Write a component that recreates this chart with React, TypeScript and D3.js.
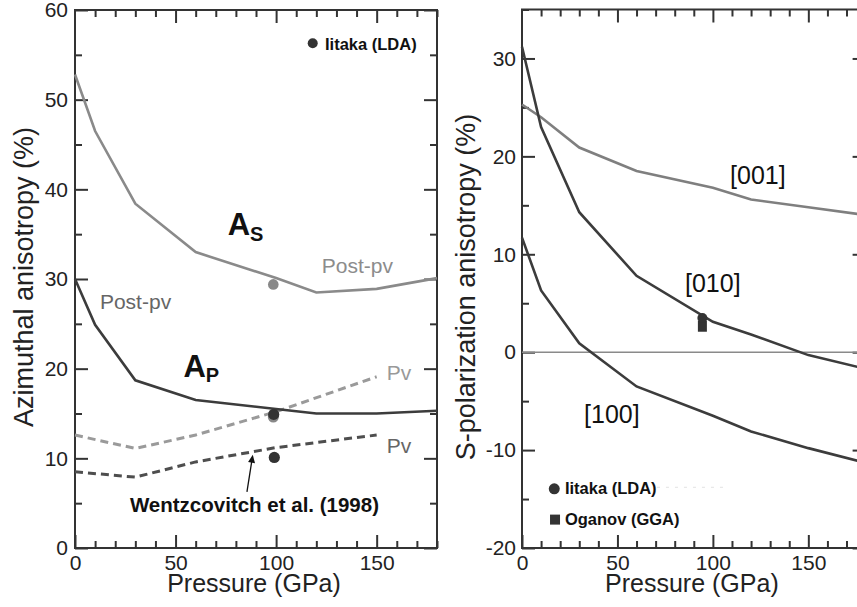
import { useRef, useEffect } from 'react'
import { select, scaleLinear, axisBottom, axisTop, axisLeft, axisRight, line, range } from 'd3'

// left panel: azimuthal anisotropy
const pressure = [0, 10, 30, 60, 100, 120, 150, 180]
const postPvAs = [52.8, 46.5, 38.4, 33.0, 30.1, 28.5, 28.9, 30.1]
const postPvAp = [30.0, 24.9, 18.7, 16.5, 15.5, 15.0, 15.0, 15.3]
const pvPressure = [0, 30, 60, 100, 150]
const pvAs = [12.6, 11.1, 12.6, 15.2, 19.1]
const pvAp = [8.5, 7.9, 9.6, 11.2, 12.6]
const iitakaAs = [{ p: 98.6, v: 29.4 }]
const iitakaAp = [{ p: 98.6, v: 14.6 }]
const wentzPoints = [{ p: 98.8, v: 14.9 }, { p: 99.1, v: 10.1 }]

// right panel: S-polarization anisotropy
const s001 = [25.3, 24.0, 20.9, 18.5, 16.8, 15.6, 14.8, 14.0]
const s010 = [31.2, 23.0, 14.3, 7.8, 3.1, 1.8, -0.3, -1.7]
const s100 = [11.7, 6.3, 0.9, -3.5, -6.5, -8.1, -9.8, -11.3]
const iitakaS = [{ p: 94.5, v: 3.5 }]
const oganovS = [{ p: 94.5, v: 2.65 }]

const leftYTicks = [0, 10, 20, 30, 40, 50, 60]
const rightYTicks = [-20, -10, 0, 10, 20, 30]
const xTicks = [0, 50, 100, 150]

const FONT = "'Liberation Sans', Arial, Helvetica, sans-serif"
const DARK = '#3c3c3c'
const LIGHT = '#8a8a8a'

function drawFrame(g, x, y, yMajor, yMinor, pad) {
  const [x0, x1] = x.range()
  const [yb, yt] = y.range()
  const xMinor = range(0, 181, 10).filter((d) => d % 50 !== 0)
  const fmt = (d) => String(d)

  g.append('g').attr('transform', `translate(0,${yb})`)
    .call(axisBottom(x).tickValues(xMinor).tickSize(-7).tickSizeOuter(0).tickFormat(() => ''))
  g.append('g').attr('transform', `translate(0,${yb})`)
    .call(axisBottom(x).tickValues(xTicks).tickSize(-13).tickSizeOuter(0).tickPadding(7).tickFormat(fmt))
  g.append('g').attr('transform', `translate(0,${yt})`)
    .call(axisTop(x).tickValues(xMinor).tickSize(-7).tickSizeOuter(0).tickFormat(() => ''))
  g.append('g').attr('transform', `translate(0,${yt})`)
    .call(axisTop(x).tickValues(xTicks.filter((d) => d > 0)).tickSize(-13).tickSizeOuter(0).tickFormat(() => ''))

  g.append('g').attr('transform', `translate(${x0},0)`)
    .call(axisLeft(y).tickValues(yMinor).tickSize(-7).tickSizeOuter(0).tickFormat(() => ''))
  g.append('g').attr('transform', `translate(${x0},0)`)
    .call(axisLeft(y).tickValues(yMajor).tickSize(-13).tickSizeOuter(0).tickPadding(pad).tickFormat(fmt))
  g.append('g').attr('transform', `translate(${x1},0)`)
    .call(axisRight(y).tickValues(yMinor).tickSize(-7).tickSizeOuter(0).tickFormat(() => ''))
  g.append('g').attr('transform', `translate(${x1},0)`)
    .call(axisRight(y).tickValues(yMajor).tickSize(-13).tickSizeOuter(0).tickFormat(() => ''))

  g.selectAll('.domain').remove()
  g.selectAll('.tick line').attr('stroke', '#333').attr('stroke-width', 2)
  g.selectAll('.tick text')
    .attr('font-size', 21)
    .attr('font-family', FONT)
    .attr('fill', '#222')

  g.append('rect')
    .attr('x', x0).attr('y', yt)
    .attr('width', x1 - x0).attr('height', yb - yt)
    .attr('fill', 'none').attr('stroke', '#333').attr('stroke-width', 2)
}

function addLine(g, gen, xs, ys, color, dashed, width) {
  g.append('path')
    .attr('d', gen(xs.map((p, i) => [p, ys[i]])))
    .attr('fill', 'none')
    .attr('stroke', color)
    .attr('stroke-width', width)
    .attr('stroke-dasharray', dashed ? '8,5' : null)
}

function addText(g, x, y, str, opts) {
  return g.append('text')
    .attr('x', x).attr('y', y)
    .attr('font-family', FONT)
    .attr('font-size', opts.size)
    .attr('font-weight', opts.bold ? 'bold' : 'normal')
    .attr('fill', opts.color || '#111')
    .text(str)
}

const App = () => {
  const svgRef = useRef(null)

  useEffect(() => {
    const svg = select(svgRef.current)
    svg.selectAll('*').remove()

    // ---------- left panel ----------
    const xL = scaleLinear().domain([0, 180]).range([75, 437])
    const yL = scaleLinear().domain([0, 60]).range([548, 10])
    const gL = svg.append('g')
    drawFrame(gL, xL, yL, leftYTicks, range(5, 60, 10), 7)

    const genL = line().x((d) => xL(d[0])).y((d) => yL(d[1]))
    addLine(gL, genL, pvPressure, pvAs, '#9a9a9a', true, 3)
    addLine(gL, genL, pvPressure, pvAp, '#4e4e4e', true, 3)
    addLine(gL, genL, pressure, postPvAs, LIGHT, false, 2.6)
    addLine(gL, genL, pressure, postPvAp, DARK, false, 2.6)

    gL.selectAll('.iAs').data(iitakaAs).enter().append('circle')
      .attr('cx', (d) => xL(d.p)).attr('cy', (d) => yL(d.v)).attr('r', 5.3).attr('fill', '#888')
    gL.selectAll('.iAp').data(iitakaAp).enter().append('circle')
      .attr('cx', (d) => xL(d.p)).attr('cy', (d) => yL(d.v)).attr('r', 5.5).attr('fill', '#888')
    gL.selectAll('.wz').data(wentzPoints).enter().append('circle')
      .attr('cx', (d) => xL(d.p)).attr('cy', (d) => yL(d.v)).attr('r', 5.6).attr('fill', '#333')

    // legend
    gL.append('circle').attr('cx', xL(118.2)).attr('cy', yL(56.3)).attr('r', 5).attr('fill', '#333')
    addText(gL, xL(124.3), yL(55.5), 'Iitaka (LDA)', { size: 16.5, bold: true })

    // annotations
    const tAs = addText(gL, xL(75.9), yL(34.9), 'A', { size: 31, bold: true })
    tAs.append('tspan').attr('font-size', 20).attr('dy', 6).text('S')
    const tAp = addText(gL, xL(53.9), yL(19.1), 'A', { size: 31, bold: true })
    tAp.append('tspan').attr('font-size', 20).attr('dy', 5).text('P')
    addText(gL, xL(122.7), yL(30.7), 'Post-pv', { size: 21, color: '#8c8c8c' })
    addText(gL, xL(12.4), yL(26.6), 'Post-pv', { size: 21, color: '#666' })
    addText(gL, xL(155), yL(18.7), 'Pv', { size: 21, color: '#999' })
    addText(gL, xL(155), yL(10.6), 'Pv', { size: 21, color: '#666' })
    addText(gL, xL(27.3), yL(4.0), 'Wentzcovitch et al. (1998)', { size: 20.5, bold: true })

    // arrow
    const ax0 = xL(85.5), ay0 = yL(6.25), ax1 = xL(88.4), ay1 = yL(10.4)
    const ang = Math.atan2(ay1 - ay0, ax1 - ax0)
    gL.append('line')
      .attr('x1', ax0).attr('y1', ay0)
      .attr('x2', ax1 - 6 * Math.cos(ang)).attr('y2', ay1 - 6 * Math.sin(ang))
      .attr('stroke', '#111').attr('stroke-width', 1.3)
    const hl = 8, hw = 3.5
    const bx = ax1 - hl * Math.cos(ang), by = ay1 - hl * Math.sin(ang)
    gL.append('path')
      .attr('d', `M${ax1},${ay1}L${bx - hw * Math.sin(ang)},${by + hw * Math.cos(ang)}L${bx + hw * Math.sin(ang)},${by - hw * Math.cos(ang)}Z`)
      .attr('fill', '#111')

    gL.append('text')
      .attr('transform', `translate(33,${(548 + 10) / 2 - 2}) rotate(-90)`)
      .attr('text-anchor', 'middle')
      .attr('font-family', FONT).attr('font-size', 27).attr('fill', '#222')
      .text('Azimuthal anisotropy (%)')
    gL.append('text')
      .attr('x', xL(89)).attr('y', 592)
      .attr('text-anchor', 'middle')
      .attr('font-family', FONT).attr('font-size', 25).attr('fill', '#222')
      .text('Pressure (GPa)')

    // ---------- right panel ----------
    const xR = scaleLinear().domain([0, 180]).range([522, 865.6])
    const yR = scaleLinear().domain([-20, 35]).range([548, 9.5])
    const gR = svg.append('g')
    drawFrame(gR, xR, yR, rightYTicks, range(-15, 36, 10), 6)

    gR.append('line')
      .attr('x1', xR(0)).attr('x2', xR(180))
      .attr('y1', yR(0)).attr('y2', yR(0))
      .attr('stroke', '#8a8a8a').attr('stroke-width', 1.6)

    const genR = line().x((d) => xR(d[0])).y((d) => yR(d[1]))
    addLine(gR, genR, pressure, s001, '#7f7f7f', false, 2.6)
    addLine(gR, genR, pressure, s010, DARK, false, 2.6)
    addLine(gR, genR, pressure, s100, DARK, false, 2.6)

    gR.selectAll('.og').data(oganovS).enter().append('rect')
      .attr('x', (d) => xR(d.p) - 4.5).attr('y', (d) => yR(d.v) - 5.5)
      .attr('width', 9).attr('height', 11).attr('fill', '#333')
    gR.selectAll('.it').data(iitakaS).enter().append('circle')
      .attr('cx', (d) => xR(d.p)).attr('cy', (d) => yR(d.v)).attr('r', 5).attr('fill', '#333')

    addText(gR, xR(109), yR(17.2), '[001]', { size: 25, color: '#111' })
    addText(gR, xR(85.4), yR(6.1), '[010]', { size: 25, color: '#111' })
    addText(gR, xR(32.5), yR(-7.2), '[100]', { size: 25, color: '#111' })

    // legend
    gR.append('circle').attr('cx', xR(16.9)).attr('cy', yR(-13.95)).attr('r', 5.5).attr('fill', '#333')
    addText(gR, xR(22.5), yR(-14.5), 'Iitaka (LDA)', { size: 16.5, bold: true })
    gR.append('line')
      .attr('x1', xR(70.7)).attr('x2', xR(106.3))
      .attr('y1', yR(-13.8)).attr('y2', yR(-13.8))
      .attr('stroke', '#e2e2e2').attr('stroke-width', 1).attr('stroke-dasharray', '3,6')
    gR.append('rect')
      .attr('x', xR(17.3) - 5).attr('y', yR(-17.1) - 5)
      .attr('width', 10).attr('height', 10).attr('fill', '#333')
    addText(gR, xR(22.5), yR(-17.6), 'Oganov (GGA)', { size: 16.5, bold: true })

    gR.append('text')
      .attr('transform', `translate(475,287) rotate(-90)`)
      .attr('text-anchor', 'middle')
      .attr('font-family', FONT).attr('font-size', 27).attr('fill', '#222')
      .text('S-polarization anisotropy (%)')
    gR.append('text')
      .attr('x', xR(89)).attr('y', 592)
      .attr('text-anchor', 'middle')
      .attr('font-family', FONT).attr('font-size', 25).attr('fill', '#222')
      .text('Pressure (GPa)')
  }, [])

  return (
    <div>
      <svg
        width="857"
        height="607"
        ref={svgRef}
        style={{ position: 'absolute', left: 0, top: 0, background: '#fff' }}
      ></svg>
    </div>
  )
}

export default App
